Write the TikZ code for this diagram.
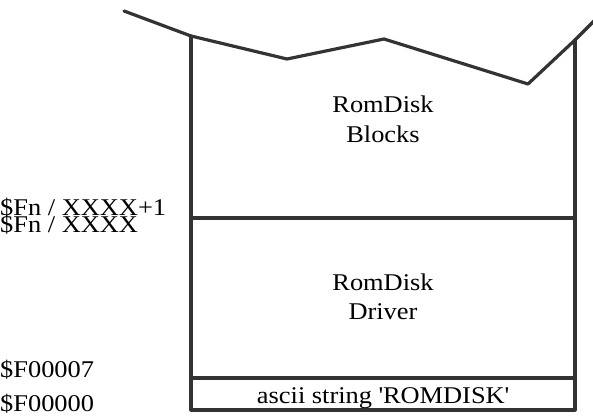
\documentclass[tikz,border=0pt]{standalone}
\usepackage{fontspec}
\setmainfont{Liberation Serif}[FakeStretch=1.1]
\begin{document}
\begin{tikzpicture}[x=1pt,y=-1pt,
  wall/.style={line width=3.2pt,draw=black!80,line cap=round,line join=round},
  lbl/.style={font=\fontsize{24}{30}\selectfont,inner sep=0pt,align=center,anchor=base},
  addr/.style={font=\fontsize{24}{24}\selectfont,inner sep=0pt,anchor=base west}]
\useasboundingbox (0,0) rectangle (593,419);
\coordinate (z0) at (124,11);
\coordinate (tl) at (191,36);
\coordinate (z2) at (287,59);
\coordinate (z3) at (384,39);
\coordinate (z4) at (528,84);
\coordinate (tr) at (575,40);
\coordinate (z6) at (597,18);
\coordinate (s1l) at (191,218);
\coordinate (s1r) at (575,218);
\coordinate (s2l) at (191,378);
\coordinate (s2r) at (575,378);
\coordinate (bl) at (191,410);
\coordinate (br) at (575,410);
\draw[wall] (z0) -- (tl) -- (z2) -- (z3) -- (z4) -- (tr) -- (z6);
\draw[wall] (tl) -- (bl) -- (br) -- (tr);
\draw[wall] (s1l) -- (s1r);
\draw[wall] (s2l) -- (s2r);
\node[lbl] (blocks1) at (383,113) {RomDisk};
\node[lbl] (blocks2) at (383,143) {Blocks};
\node[lbl] (driver1) at (383,290) {RomDisk};
\node[lbl] (driver2) at (383,319) {Driver};
\node[lbl] (ascii) at (383,403) {ascii string \textquotesingle ROMDISK\textquotesingle};
\node[addr] (a1) at (0,216) {\$Fn / XXXX+1};
\node[addr] (a2) at (0,233) {\$Fn / XXXX};
\node[addr] (a3) at (0,377) {\$F00007};
\node[addr] (a4) at (0,411) {\$F00000};
\end{tikzpicture}
\end{document}
